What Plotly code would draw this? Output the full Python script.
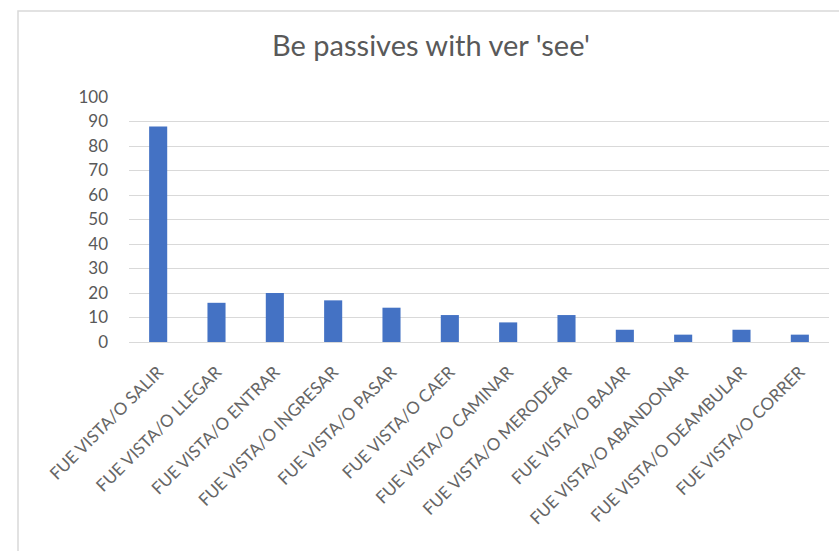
import plotly.graph_objects as go

categories = [
    "FUE VISTA/O SALIR", "FUE VISTA/O LLEGAR", "FUE VISTA/O ENTRAR",
    "FUE VISTA/O INGRESAR", "FUE VISTA/O PASAR", "FUE VISTA/O CAER",
    "FUE VISTA/O CAMINAR", "FUE VISTA/O MERODEAR", "FUE VISTA/O BAJAR",
    "FUE VISTA/O ABANDONAR", "FUE VISTA/O DEAMBULAR", "FUE VISTA/O CORRER",
]
values = [88, 16, 20, 17, 14, 11, 8, 11, 5, 3, 5, 3]
y_ticks = [0, 10, 20, 30, 40, 50, 60, 70, 80, 90, 100]
title_text = "Be passives with ver 'see'"

W, H = 839, 551
L, R, T, B = 129, 10, 97, 209
pw, ph = W - L - R, H - T - B

def px_to_paper_x(px):
    return (px - L) / pw

def px_to_paper_y(py):
    return (H - B - py) / ph

font_fam = "Lato, 'Open Sans', sans-serif"
gray = "#595959"

fig = go.Figure(go.Bar(
    x=categories, y=values, marker_color="#4472C4",
    marker_line_width=0,
))

fig.update_layout(
    width=W, height=H,
    margin=dict(l=L, r=R, t=T, b=B),
    paper_bgcolor="white", plot_bgcolor="white",
    bargap=0.69,
    showlegend=False,
    title=dict(text=title_text, x=px_to_paper_x(431), xref="paper", xanchor="center",
               y=1 - 46 / H, yanchor="middle", yref="container",
               font=dict(family=font_fam, size=29, color=gray)),
    font=dict(family=font_fam, color=gray),
    shapes=[dict(type="rect", xref="paper", yref="paper",
                 x0=px_to_paper_x(18), x1=px_to_paper_x(W + 20),
                 y0=px_to_paper_y(H + 20), y1=px_to_paper_y(11),
                 line=dict(color="#d9d9d9", width=1.5), layer="below")],
)
fig.update_yaxes(range=[0, 100], tickvals=y_ticks, showgrid=True,
                 gridcolor="#d9d9d9", gridwidth=1, zeroline=True,
                 zerolinecolor="#d9d9d9", zerolinewidth=1,
                 tickfont=dict(size=17, color=gray), ticklabelstandoff=20,
                 showline=False, fixedrange=True)
fig.update_xaxes(tickangle=-45, tickfont=dict(size=17, color="#666666"),
                 ticklabelstandoff=16,
                 showline=False, showgrid=False, ticks="", fixedrange=True)

fig.write_html("out.html")
